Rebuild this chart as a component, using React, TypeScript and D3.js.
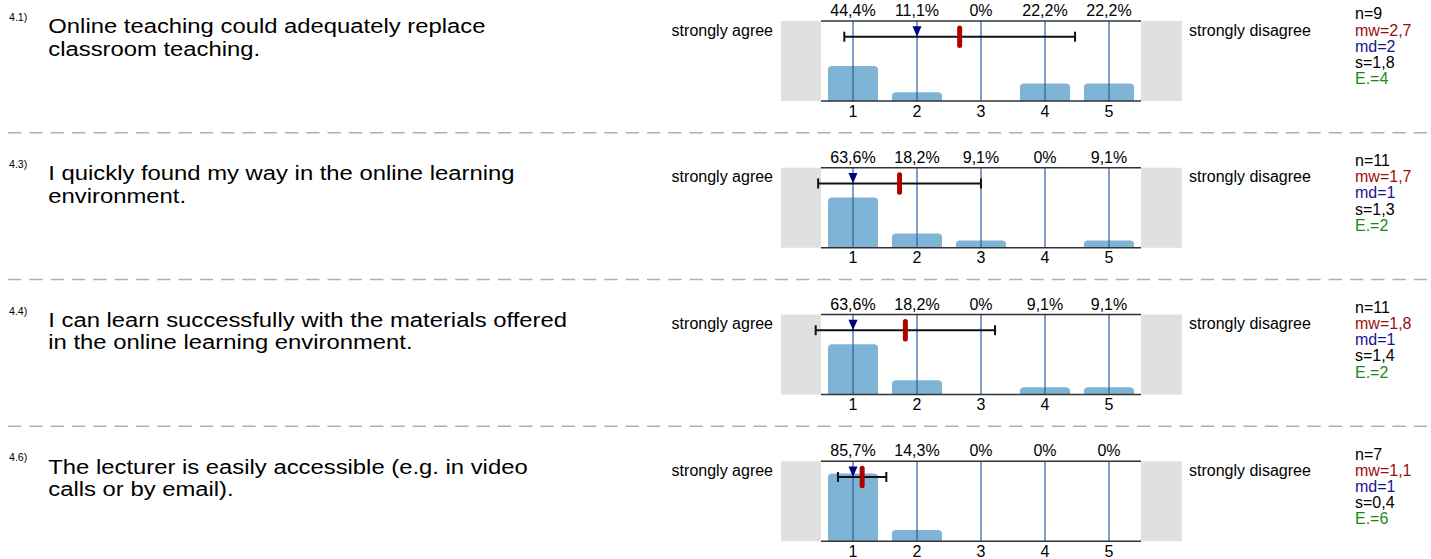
import React from "react";
import * as d3 from "d3";

const ids = ["4.1)", "4.3)", "4.4)", "4.6)"];
const questions = [
  ["Online teaching could adequately replace", "classroom teaching."],
  ["I quickly found my way in the online learning", "environment."],
  ["I can learn successfully with the materials offered", "in the online learning environment."],
  ["The lecturer is easily accessible (e.g. in video", "calls or by email)."],
];
const categories = [1, 2, 3, 4, 5];
const counts = [
  [4, 1, 0, 2, 2],
  [7, 2, 1, 0, 1],
  [7, 2, 0, 1, 1],
  [6, 1, 0, 0, 0],
];
const abstentions = [4, 2, 2, 6];
const leftLabel = "strongly agree";
const rightLabel = "strongly disagree";

const W = 1431;
const H = 559;
const FONT = "'Liberation Sans', Arial, Helvetica, sans-serif";
const BLOCK_TOP = 21;
const BLOCK_STEP = 146.75;
const PLOT_H = 80;
const SMALL = 16;

const fmt = (v: number, d = 1) => {
  const r = Math.round(v * Math.pow(10, d)) / Math.pow(10, d);
  return String(r).replace(".", ",");
};

function Block({ i }: { i: number }) {
  const top = BLOCK_TOP + i * BLOCK_STEP;
  const bottom = top + PLOT_H;
  const c = counts[i];
  const n = d3.sum(c);
  const values: number[] = [];
  c.forEach((k, j) => {
    for (let q = 0; q < k; q++) values.push(categories[j]);
  });
  const mean = d3.mean(values) as number;
  const sd = d3.deviation(values) as number;
  const median = d3.median(values) as number;

  const x = d3.scaleLinear().domain([0.5, 5.5]).range([821, 1141]);
  const y = d3.scaleLinear().domain([0, 100]).range([bottom, bottom - 79]);
  const ey = top + 15.7;

  const barPath = (cat: number, pct: number) => {
    const x0 = x(cat) - 25;
    const w = 50;
    const yt = y(pct);
    const hgt = bottom - yt;
    if (hgt <= 0) return "";
    const r = Math.min(4, hgt);
    return `M${x0},${bottom}V${yt + r}Q${x0},${yt} ${x0 + r},${yt}H${x0 + w - r}Q${x0 + w},${yt} ${x0 + w},${yt + r}V${bottom}Z`;
  };

  const stats = [
    { t: `n=${n}`, c: "#000000" },
    { t: `mw=${fmt(mean)}`, c: "#9a0e0e" },
    { t: `md=${fmt(median)}`, c: "#141490" },
    { t: `s=${fmt(sd)}`, c: "#000000" },
    { t: `E.=${abstentions[i]}`, c: "#1a8a1a" },
  ];

  return (
    <g>
      <text x={9} y={top} fontSize={10.6} fill="#000">{ids[i]}</text>
      {questions[i].map((line, k) => (
        <g key={k} transform={`translate(48.3,${top + 12.3 + k * 22.5}) scale(1.135,1)`}>
          <text x={0} y={0} fontSize={21} fill="#000">{line}</text>
        </g>
      ))}
      <text x={773} y={top + 14.5} fontSize={SMALL} textAnchor="end" fill="#000">{leftLabel}</text>
      <text x={1189} y={top + 14.5} fontSize={SMALL} fill="#000">{rightLabel}</text>
      <rect x={781} y={top} width={40} height={PLOT_H} fill="#e0e0e0" />
      <rect x={1141} y={top} width={41} height={PLOT_H} fill="#e0e0e0" />
      {categories.map((cat, j) => (
        <path key={"b" + j} d={barPath(cat, (c[j] / n) * 100)} fill="#80b4d6" />
      ))}
      {categories.map((cat, j) => (
        <line key={"l" + j} x1={x(cat)} x2={x(cat)} y1={top} y2={bottom} stroke="#2660a0" strokeWidth={1.2} />
      ))}
      <line x1={821} x2={1141} y1={top} y2={top} stroke="#333" strokeWidth={1.6} />
      <line x1={821} x2={1141} y1={bottom} y2={bottom} stroke="#333" strokeWidth={1.6} />
      {categories.map((cat, j) => (
        <text key={"p" + j} x={x(cat)} y={top - 5} fontSize={SMALL} textAnchor="middle" fill="#000">
          {fmt((c[j] / n) * 100) + "%"}
        </text>
      ))}
      {categories.map((cat, j) => (
        <text key={"a" + j} x={x(cat)} y={top + 95.5} fontSize={SMALL} textAnchor="middle" fill="#000">
          {cat}
        </text>
      ))}
      <line x1={x(mean - sd)} x2={x(mean + sd)} y1={ey} y2={ey} stroke="#111" strokeWidth={2} />
      <line x1={x(mean - sd)} x2={x(mean - sd)} y1={ey - 5} y2={ey + 5} stroke="#111" strokeWidth={2} />
      <line x1={x(mean + sd)} x2={x(mean + sd)} y1={ey - 5} y2={ey + 5} stroke="#111" strokeWidth={2} />
      <path
        d={`M${x(median) - 4.5},${ey - 10.5}L${x(median) + 4.5},${ey - 10.5}L${x(median)},${ey}Z`}
        fill="#000080"
      />
      <rect x={x(mean) - 2.5} y={ey - 11.3} width={5} height={22.6} rx={2.5} fill="#b00000" />
      {stats.map((s, k) => (
        <text key={"s" + k} x={1355} y={top - 1.7 + k * 16.2} fontSize={SMALL} fill={s.c}>{s.t}</text>
      ))}
      {i < counts.length - 1 && (
        <line x1={8} x2={W} y1={top + 111.7} y2={top + 111.7} stroke="#b0b0b0" strokeWidth={1.5} strokeDasharray="13.3,8" />
      )}
    </g>
  );
}

export default function App() {
  return (
    <svg
      width={W}
      height={H}
      style={{ position: "absolute", left: 0, top: 0, background: "#fff" }}
      fontFamily={FONT}
    >
      <rect x={0} y={0} width={W} height={H} fill="#fff" />
      {counts.map((_, i) => (
        <Block key={i} i={i} />
      ))}
    </svg>
  );
}
